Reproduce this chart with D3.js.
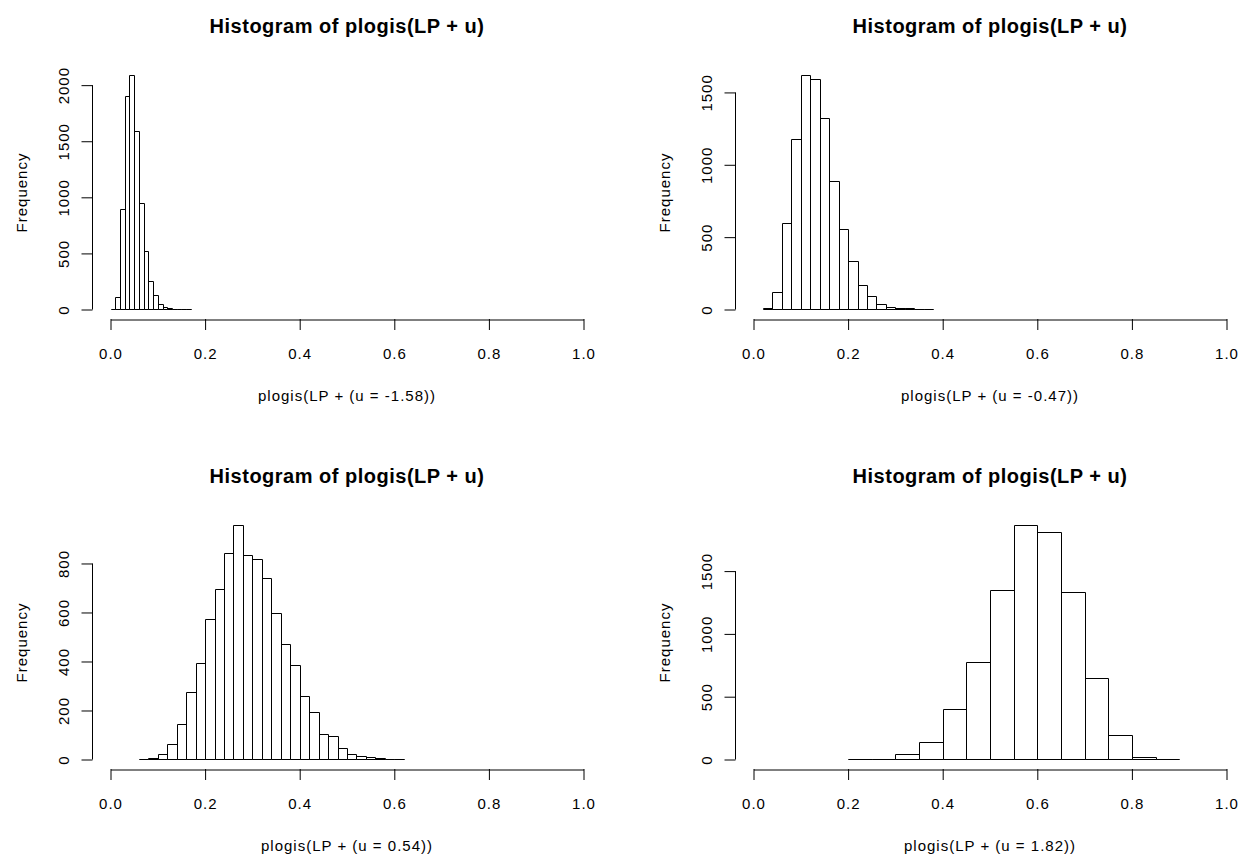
<!DOCTYPE html>
<html>
<head>
<meta charset="utf-8">
<script src="https://cdn.jsdelivr.net/npm/d3@7"></script>
<style>
  body { margin: 0; background: #fff; }
  text { font-family: "Liberation Sans", Arial, sans-serif; fill: #000; }
</style>
</head>
<body>
<div id="chart"></div>
<script>
var w = 1244;
var h = 857;

var titleText = "Histogram of plogis(LP + u)";
var xTicks = [0.0, 0.2, 0.4, 0.6, 0.8, 1.0];

// u = -1.58
var breaks1 = [0.00, 0.01, 0.02, 0.03, 0.04, 0.05, 0.06, 0.07, 0.08, 0.09, 0.10, 0.11, 0.12, 0.13, 0.14, 0.15, 0.16, 0.17];
var counts1 = [1, 107, 893, 1900, 2086, 1588, 944, 513, 252, 127, 45, 14, 12, 3, 1, 0, 1];
var yTicks1 = [0, 500, 1000, 1500, 2000];

// u = -0.47
var breaks2 = [0.02, 0.04, 0.06, 0.08, 0.10, 0.12, 0.14, 0.16, 0.18, 0.20, 0.22, 0.24, 0.26, 0.28, 0.30, 0.32, 0.34, 0.36, 0.38];
var counts2 = [8, 120, 591, 1173, 1617, 1589, 1320, 885, 552, 333, 163, 90, 37, 16, 9, 4, 2, 1];
var yTicks2 = [0, 500, 1000, 1500];

// u = 0.54
var breaks3 = [0.06, 0.08, 0.10, 0.12, 0.14, 0.16, 0.18, 0.20, 0.22, 0.24, 0.26, 0.28, 0.30, 0.32, 0.34, 0.36, 0.38, 0.40, 0.42, 0.44, 0.46, 0.48, 0.50, 0.52, 0.54, 0.56, 0.58, 0.60, 0.62];
var counts3 = [1, 3, 22, 60, 141, 272, 392, 572, 693, 841, 955, 834, 817, 740, 594, 468, 382, 256, 192, 103, 92, 43, 22, 11, 9, 5, 2, 1];
var yTicks3 = [0, 200, 400, 600, 800];

// u = 1.82
var breaks4 = [0.20, 0.25, 0.30, 0.35, 0.40, 0.45, 0.50, 0.55, 0.60, 0.65, 0.70, 0.75, 0.80, 0.85, 0.90];
var counts4 = [1, 0, 42, 137, 402, 776, 1342, 1863, 1808, 1328, 646, 191, 18, 1];
var yTicks4 = [0, 500, 1000, 1500];

var xLabels = [
    "plogis(LP + (u = -1.58))",
    "plogis(LP + (u = -0.47))",
    "plogis(LP + (u = 0.54))",
    "plogis(LP + (u = 1.82))"
];

var panels = [
    {breaks: breaks1, counts: counts1, yTicks: yTicks1, label: xLabels[0], dx: 0, dy: 0},
    {breaks: breaks2, counts: counts2, yTicks: yTicks2, label: xLabels[1], dx: 643, dy: 0},
    {breaks: breaks3, counts: counts3, yTicks: yTicks3, label: xLabels[2], dx: 0, dy: 450},
    {breaks: breaks4, counts: counts4, yTicks: yTicks4, label: xLabels[3], dx: 643, dy: 450}
];

var svg = d3.select("#chart")
    .append("svg")
    .attr("width", w)
    .attr("height", h);

var tickLen = 11;

panels.forEach(function(p) {
    var g = svg.append("g")
        .attr("transform", "translate(" + p.dx + "," + p.dy + ")");

    var xScale = d3.scaleLinear()
        .domain([0, 1])
        .range([110.5, 583.5]);

    var yScale = d3.scaleLinear()
        .domain([0, d3.max(p.counts)])
        .range([309.5, 75.5]);

    // plot region (R adds 4% on each side)
    var left = xScale(-0.04);
    var right = xScale(1.04);
    var cx = (left + right) / 2;
    var cy = (yScale.range()[0] + yScale.range()[1]) / 2;
    var axisY = 319.5;
    var axisX = 92.5;

    // bars, drawn as closed paths so empty bins show as a flat line
    var bins = p.counts.map(function(c, i) {
        return {x0: p.breaks[i], x1: p.breaks[i + 1], n: c};
    });

    g.selectAll("path.bar")
        .data(bins)
        .enter()
        .append("path")
        .attr("class", "bar")
        .attr("d", function(d) {
            var x0 = Math.round(xScale(d.x0)) + 0.5;
            var x1 = Math.round(xScale(d.x1)) + 0.5;
            var y0 = yScale(0);
            var y1 = Math.round(yScale(d.n) - 0.5) + 0.5;
            return "M" + x0 + "," + y0 + "V" + y1 + "H" + x1 + "V" + y0 + "Z";
        })
        .attr("fill", "none")
        .attr("stroke", "#000")
        .attr("stroke-width", 1);

    // x axis
    var xAxis = d3.axisBottom(xScale)
        .tickValues(xTicks)
        .tickSize(tickLen)
        .tickSizeOuter(0)
        .tickPadding(18)
        .tickFormat(d3.format(".1f"));

    var gx = g.append("g")
        .attr("transform", "translate(0," + (axisY - 0.5) + ")")
        .call(xAxis);
    gx.selectAll("line").attr("stroke", "#000");
    gx.select(".domain").attr("stroke", "#000").attr("transform", "translate(0,0.5)");
    gx.selectAll("text")
        .attr("font-size", 15)
        .attr("letter-spacing", "1px")
        .attr("font-family", null);

    // y axis, labels turned like R's las = 0
    var yAxis = d3.axisLeft(yScale)
        .tickValues(p.yTicks)
        .tickSize(tickLen)
        .tickSizeOuter(0)
        .tickFormat(d3.format("d"));

    var gy = g.append("g")
        .attr("transform", "translate(" + axisX + ",0)")
        .call(yAxis);
    gy.select(".domain").remove();
    gy.selectAll("line").attr("stroke", "#000");
    gy.selectAll("text")
        .attr("x", 0)
        .attr("y", -24)
        .attr("dy", null)
        .attr("transform", "rotate(-90)")
        .attr("text-anchor", "middle")
        .attr("font-size", 15)
        .attr("letter-spacing", "1px")
        .attr("font-family", null);

    var yLast = p.yTicks[p.yTicks.length - 1];
    gy.append("line")
        .attr("x1", 0)
        .attr("x2", 0)
        .attr("y1", yScale(0))
        .attr("y2", yScale(yLast))
        .attr("stroke", "#000");

    // titles
    g.append("text")
        .attr("x", cx)
        .attr("y", 33)
        .attr("text-anchor", "middle")
        .attr("font-size", 20)
        .attr("font-weight", "bold")
        .attr("letter-spacing", "0.5px")
        .text(titleText);

    g.append("text")
        .attr("x", cx)
        .attr("y", 401)
        .attr("text-anchor", "middle")
        .attr("font-size", 15)
        .attr("letter-spacing", "1px")
        .text(p.label);

    g.append("text")
        .attr("transform", "translate(" + (axisX - 66) + "," + cy + ") rotate(-90)")
        .attr("text-anchor", "middle")
        .attr("font-size", 15)
        .attr("letter-spacing", "1px")
        .text("Frequency");
});
</script>
</body>
</html>
